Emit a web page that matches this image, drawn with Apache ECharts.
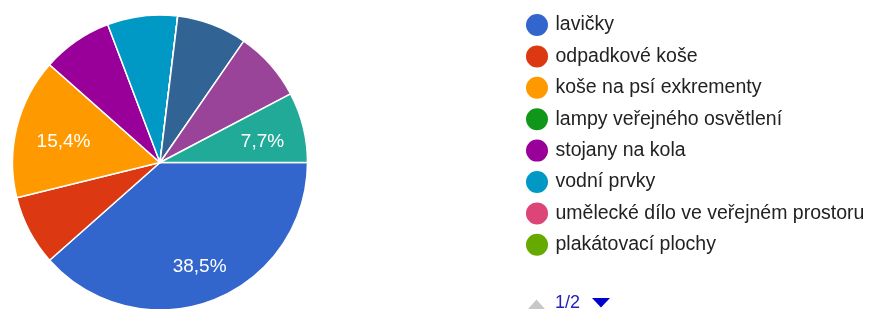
<!DOCTYPE html>
<html>
<head>
<meta charset="utf-8">
<script src="https://cdn.jsdelivr.net/npm/echarts@6/dist/echarts.min.js"></script>
<style>html,body{margin:0;padding:0;background:#fff}#c{width:870px;height:309px}</style>
</head>
<body>
<div id="c"></div>
<script>
const categories = [
  'lavičky',
  'odpadkové koše',
  'koše na psí exkrementy',
  'lampy veřejného osvětlení',
  'stojany na kola',
  'vodní prvky',
  'umělecké dílo ve veřejném prostoru',
  'plakátovací plochy',
  'informační tabule',
  'pítka',
  'herní prvky',
  'jiné'
];
const counts = [5, 1, 2, 0, 1, 1, 0, 0, 0, 1, 1, 1];
const labelShown = ['lavičky', 'koše na psí exkrementy', 'jiné'];
const palette = ['#3366cc','#dc3912','#ff9900','#109618','#990099','#0099c6','#dd4477','#66aa00','#b82e2e','#316395','#994499','#22aa99'];
const itemsPerPage = 8;

const FONT = 'Liberation Sans, Arial, sans-serif';
const total = counts.reduce((a, b) => a + b, 0);
const fmtPct = v => (v / total * 100).toFixed(1).replace('.', ',') + '%';
const pageCount = Math.ceil(categories.length / itemsPerPage);

// small label nudges (style, not data)
const labelPad = {
  'koše na psí exkrementy': [0, 0, 0, 24],
  'jiné': [0, 12, 0, 0]
};
const nudgeDown = ['koše na psí exkrementy', 'jiné'];

const mainData = categories.map((n, i) => ({ name: n, value: counts[i] }));
const labelData = categories.map((n, i) => ({
  name: n, value: counts[i],
  label: { show: labelShown.includes(n) && counts[i] > 0, padding: labelPad[n] || 0 }
}));

const chart = echarts.init(document.getElementById('c'), null, { renderer: 'canvas' });
let page = 1;

function pagerGraphic() {
  const upActive = page > 1, downActive = page < pageCount;
  return [
    {
      id: 'pgUp', type: 'polygon',
      shape: { points: [[528, 309], [545, 309], [536.5, 299.5]] },
      style: { fill: upActive ? '#0000cc' : '#c8c8c8' },
      onclick: () => { if (page > 1) { page--; go(); } }
    },
    {
      id: 'pgText', type: 'text', x: 555, y: 303,
      style: { text: page + '/' + pageCount, fill: '#2323b8', font: '18px ' + FONT, textVerticalAlign: 'middle' }
    },
    {
      id: 'pgDown', type: 'polygon',
      shape: { points: [[592, 298], [610, 298], [601, 307.5]] },
      style: { fill: downActive ? '#0000cc' : '#c8c8c8' },
      onclick: () => { if (page < pageCount) { page++; go(); } }
    }
  ];
}
function go() {
  chart.dispatchAction({ type: 'legendScroll', scrollDataIndex: (page - 1) * itemsPerPage, legendId: 'lg' });
  chart.setOption({ graphic: pagerGraphic() });
}

chart.setOption({
  animation: false,
  color: palette,
  textStyle: { fontFamily: FONT },
  legend: {
    id: 'lg',
    type: 'scroll',
    orient: 'vertical',
    left: 519,
    top: 7,
    height: 278,
    icon: 'circle',
    itemWidth: 27,
    itemHeight: 24,
    itemGap: 5.4,
    pageButtonPosition: 'end',
    pageButtonGap: 20,
    pageIconSize: 1,
    pageIconColor: 'rgba(0,0,0,0)',
    pageIconInactiveColor: 'rgba(0,0,0,0)',
    pageTextStyle: { color: 'rgba(0,0,0,0)', fontSize: 14 },
    textStyle: { fontSize: 19.5, color: '#222222', fontFamily: FONT },
    data: categories
  },
  graphic: pagerGraphic(),
  series: [
    {
      type: 'pie',
      center: [160, 162.5],
      radius: [0, 147.5],
      startAngle: 0,
      clockwise: true,
      avoidLabelOverlap: false,
      label: { show: false },
      labelLine: { show: false },
      emphasis: { disabled: true },
      itemStyle: { borderColor: '#ffffff', borderWidth: 1.5 },
      data: mainData
    },
    {
      type: 'pie',
      center: [160, 162.5],
      radius: [70, 147.5],
      startAngle: 0,
      clockwise: true,
      silent: true,
      avoidLabelOverlap: false,
      legendHoverLink: false,
      itemStyle: { color: 'rgba(0,0,0,0)', borderWidth: 0 },
      label: {
        position: 'inside',
        color: '#ffffff',
        fontSize: 19,
        fontFamily: FONT,
        formatter: p => nudgeDown.includes(p.name)
          ? '{gap|}\n{v|' + fmtPct(p.value) + '}'
          : '{v|' + fmtPct(p.value) + '}',
        rich: {
          gap: { lineHeight: 12, fontSize: 1 },
          v: { color: '#ffffff', fontSize: 19, fontFamily: FONT, lineHeight: 22 }
        }
      },
      labelLine: { show: false },
      emphasis: { disabled: true },
      data: labelData
    }
  ]
});
</script>
</body>
</html>
